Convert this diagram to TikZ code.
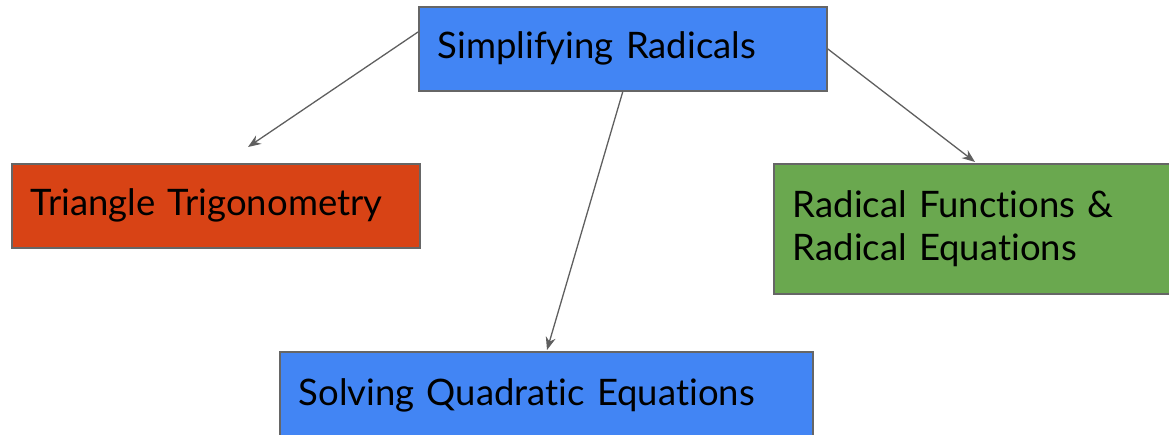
\documentclass[tikz,border=0pt]{standalone}
\usepackage{fontspec}
\setmainfont{Lato}[Ligatures={NoCommon}]
\usetikzlibrary{arrows.meta}
\definecolor{gblue}{HTML}{4285F4}
\definecolor{gred}{HTML}{D84315}
\definecolor{ggreen}{HTML}{6AA84F}
\definecolor{gedge}{HTML}{666666}
\definecolor{garrow}{HTML}{5F5F5F}
\tikzset{
  box/.style={draw=gedge, line width=1.6pt, rectangle, anchor=north west,
    inner xsep=19pt, inner ysep=0pt, align=left, font=\fontsize{36.5}{43}\selectfont},
  link/.style={draw=garrow, line width=1.3pt, -{Stealth[length=13pt,width=10pt]}}
}
\begin{document}
\begin{tikzpicture}[x=1pt,y=-1pt]
\useasboundingbox (0,0) rectangle (1169,434);
\node[box, fill=gblue, minimum width=408pt, minimum height=84pt, text width=370pt] (simp) at (418,6) {Simplifying Radicals};
\node[box, fill=gred, minimum width=408pt, minimum height=84pt, text width=370pt] (trig) at (11,163) {Triangle Trigonometry};
\node[box, fill=ggreen, minimum width=400pt, minimum height=130pt, text width=362pt] (rad) at (773,163) {Radical Functions \&\\Radical Equations};
\node[box, fill=gblue, minimum width=533pt, minimum height=87pt, text width=495pt] (quad) at (279,351) {Solving Quadratic Equations};
\coordinate (s1) at (418,32);
\coordinate (e1) at (248,147);
\coordinate (e2) at (547,350);
\coordinate (e3) at (975,162);
\draw[link] (s1) -- (e1);
\draw[link] (simp.south) -- (e2);
\draw[link] (simp.east) -- (e3);
\end{tikzpicture}
\end{document}
